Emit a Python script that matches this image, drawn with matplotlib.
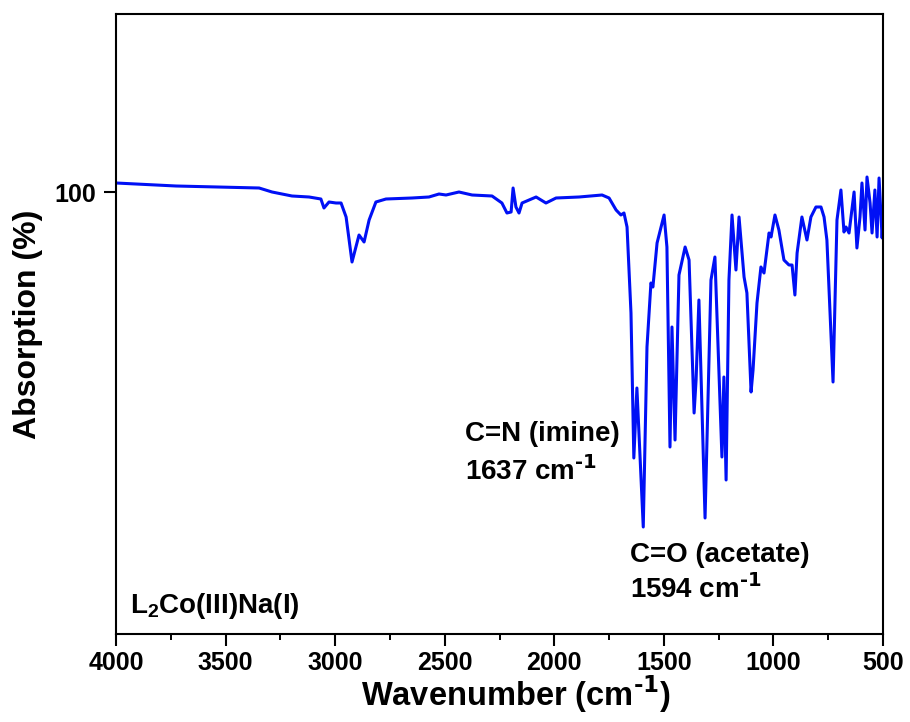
import matplotlib
matplotlib.use("Agg")
import matplotlib.pyplot as plt
from matplotlib.ticker import MultipleLocator, FixedLocator

plt.rcParams['font.family'] = ['Liberation Sans', 'DejaVu Sans']
plt.rcParams['font.weight'] = 'bold'
plt.rcParams['mathtext.default'] = 'regular'

# Wavenumber (cm-1) and absorption (%)
wavenumber = [4000, 3726, 3347, 3288, 3197, 3119, 3065, 3051, 3028, 2996, 2973, 2950,
              2923, 2891, 2868, 2845, 2814, 2768, 2649, 2572, 2526, 2494, 2435, 2375,
              2284, 2239, 2216, 2197, 2188, 2175, 2161, 2147, 2083, 2038, 1992, 1887,
              1782, 1750, 1718, 1696, 1682, 1668, 1650, 1637, 1623, 1594, 1577, 1559,
              1550, 1531, 1499, 1486, 1472, 1463, 1449, 1431, 1403, 1385, 1362, 1353,
              1340, 1312, 1285, 1267, 1235, 1226, 1216, 1203, 1189, 1171, 1157, 1134,
              1121, 1102, 1093, 1075, 1057, 1043, 1020, 1011, 993, 975, 952, 929,
              915, 902, 892, 870, 847, 829, 806, 783, 769, 756, 728, 710,
              692, 678, 669, 655, 632, 619, 605, 596, 582, 573, 559, 550,
              537, 527, 518, 504, 500]
absorption = [100.9, 100.6, 100.4, 100.0, 99.6, 99.5, 99.3, 98.4, 99.0, 98.9, 98.9, 97.5,
              93.0, 95.7, 95.0, 97.2, 99.0, 99.3, 99.4, 99.5, 99.8, 99.7, 100.0, 99.7,
              99.6, 98.9, 97.9, 98.0, 100.4, 98.5, 97.9, 98.9, 99.5, 98.9, 99.4, 99.5,
              99.7, 99.4, 98.2, 97.7, 97.9, 96.5, 87.9, 73.4, 80.4, 66.5, 84.5, 90.9,
              90.5, 94.9, 97.7, 94.5, 74.5, 86.5, 75.2, 91.7, 94.5, 93.2, 77.9, 81.2,
              89.2, 67.4, 91.2, 93.5, 73.5, 81.5, 71.2, 91.2, 97.7, 92.2, 97.5, 91.5,
              89.9, 80.0, 82.2, 88.9, 92.5, 91.9, 95.9, 95.5, 97.7, 96.2, 93.2, 92.7,
              92.7, 89.7, 93.9, 97.5, 95.2, 97.5, 98.5, 98.5, 97.5, 95.2, 81.0, 97.2,
              100.2, 96.0, 96.5, 95.9, 100.0, 94.4, 97.5, 100.9, 96.2, 101.5, 98.9, 95.9,
              100.2, 95.5, 101.4, 95.4, 97.0]

x_ticks = [4000, 3500, 3000, 2500, 2000, 1500, 1000, 500]
y_ticks = [100]

fig = plt.figure(figsize=(9.10, 7.22), dpi=100)
ax = fig.add_axes([116 / 910, 1 - 634 / 722, 767 / 910, 620 / 722])
ax.plot(wavenumber, absorption, color='#0010f5', lw=2.2)

ax.set_xlim(4000, 500)
ax.set_ylim(55.8, 117.8)
ax.xaxis.set_major_locator(FixedLocator(x_ticks))
ax.xaxis.set_minor_locator(MultipleLocator(250))
ax.yaxis.set_major_locator(FixedLocator(y_ticks))

for s in ax.spines.values():
    s.set_linewidth(1.5)
ax.tick_params(axis='both', which='major', direction='out', length=8.6, width=1.5,
               labelsize=18)
ax.tick_params(axis='x', which='major', pad=4)
ax.tick_params(axis='y', which='major', pad=6)
ax.tick_params(axis='x', which='minor', direction='out', length=4.3, width=1.4)
for lab in ax.get_xticklabels() + ax.get_yticklabels():
    lab.set_fontweight('bold')

sup = r'$^{\text{-1}}$'
ax.set_xlabel('Wavenumber (cm' + sup + ')', fontsize=23.5, fontweight='bold')
ax.xaxis.set_label_coords(0.522, -0.064)
ax.set_ylabel('Absorption (%)', fontsize=23, fontweight='bold', labelpad=8)

fs = 20
ax.text(2407, 75.1, 'C=N (imine)', fontsize=fs, fontweight='bold', va='baseline', ha='left')
ax.text(2407, 71.2, '1637 cm' + sup, fontsize=fs, fontweight='bold', va='baseline', ha='left')
ax.text(1654, 63.0, 'C=O (acetate)', fontsize=fs, fontweight='bold', va='baseline', ha='left')
ax.text(1654, 59.4, '1594 cm' + sup, fontsize=fs, fontweight='bold', va='baseline', ha='left')
ax.text(3936, 57.9, 'L$_{2}$Co(III)Na(I)', fontsize=fs, fontweight='bold', va='baseline', ha='left')

fig.savefig('out.png', dpi=100)
